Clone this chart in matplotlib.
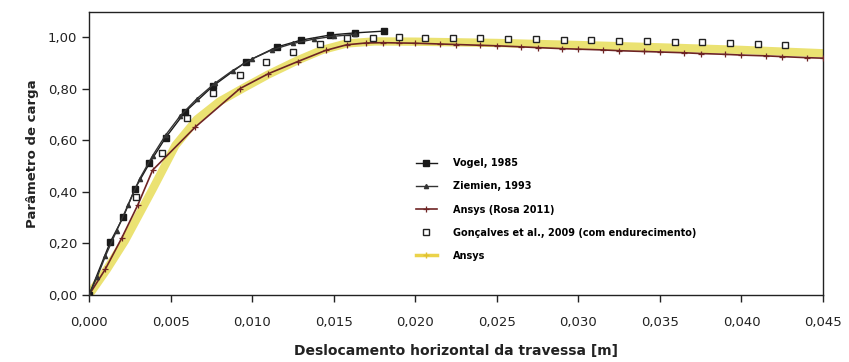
import matplotlib
matplotlib.use("Agg")
import matplotlib.pyplot as plt
from matplotlib.ticker import FuncFormatter
from matplotlib.lines import Line2D

# Vogel, 1985
vogel_x = [0.0, 0.0013, 0.0021, 0.0028, 0.0037, 0.0047, 0.0059, 0.0076, 0.0096, 0.0115, 0.0130, 0.0148, 0.0163, 0.0181]
vogel_y = [0.0, 0.205, 0.302, 0.410, 0.510, 0.610, 0.710, 0.810, 0.903, 0.961, 0.988, 1.008, 1.016, 1.023]

# Ziemien, 1993
ziem_x = [0.0, 0.0005, 0.0010, 0.0017, 0.0024, 0.0031, 0.0039, 0.0047, 0.0056, 0.0066, 0.0077, 0.0088, 0.0100, 0.0112, 0.0125, 0.0138, 0.0150, 0.0163]
ziem_y = [0.0, 0.07, 0.15, 0.25, 0.35, 0.45, 0.54, 0.62, 0.695, 0.76, 0.82, 0.87, 0.915, 0.950, 0.975, 0.992, 1.003, 1.010]

# Ansys (Rosa 2011)
rosa_x = [0.0, 0.0010, 0.0020, 0.0030, 0.0039, 0.0065, 0.00925, 0.0110, 0.0128, 0.0145, 0.0158, 0.0170, 0.0180, 0.0190, 0.0200,
          0.0215, 0.0225, 0.0240, 0.0250, 0.0265, 0.0275, 0.0290, 0.0300, 0.0315, 0.0325, 0.0340, 0.0350, 0.0365, 0.0375,
          0.0390, 0.0400, 0.0415, 0.0425, 0.0440, 0.0450]
rosa_y = [0.0, 0.10, 0.22, 0.35, 0.484, 0.65, 0.800, 0.858, 0.905, 0.948, 0.970, 0.977, 0.978, 0.977, 0.976,
          0.973, 0.971, 0.968, 0.966, 0.962, 0.959, 0.955, 0.953, 0.950, 0.947, 0.944, 0.942, 0.939, 0.936,
          0.933, 0.930, 0.927, 0.924, 0.920, 0.918]

# Goncalves et al., 2009 (com endurecimento)
gonc_x = [0.0029, 0.00447, 0.0060, 0.0076, 0.00925, 0.01085, 0.0125, 0.01415, 0.0158, 0.0174, 0.0190,
          0.0206, 0.0223, 0.0240, 0.0257, 0.0274, 0.0291, 0.0308, 0.0325, 0.0342, 0.0359, 0.0376, 0.0393, 0.0410, 0.0427]
gonc_y = [0.38, 0.55, 0.686, 0.783, 0.853, 0.903, 0.942, 0.973, 0.996, 0.998, 1.000,
          0.997, 0.996, 0.995, 0.994, 0.992, 0.990, 0.988, 0.986, 0.984, 0.982, 0.979, 0.976, 0.973, 0.969]

# Ansys
ansys_x = [0.0, 0.0011, 0.0022, 0.0039, 0.0053, 0.0066, 0.0080, 0.0094, 0.0110, 0.0128, 0.0143, 0.0158, 0.0175, 0.0200,
           0.0250, 0.0300, 0.0350, 0.0400, 0.0450]
ansys_y = [0.0, 0.10, 0.21, 0.41, 0.58, 0.68, 0.75, 0.80, 0.855, 0.91, 0.95, 0.975, 0.983, 0.982,
           0.977, 0.969, 0.960, 0.950, 0.937]

xticks = [0.000, 0.005, 0.010, 0.015, 0.020, 0.025, 0.030, 0.035, 0.040, 0.045]
yticks = [0.0, 0.2, 0.4, 0.6, 0.8, 1.0]

fig = plt.figure(figsize=(8.49, 3.62), dpi=100)
ax = fig.add_axes([89/849, 1-295/362, (823-89)/849, (295-12)/362])

ax.plot(ansys_x, ansys_y, color="#ebe272", lw=6, solid_capstyle="round", label="Ansys", zorder=2)
ax.plot(rosa_x, rosa_y, color="#6e2424", lw=1.2, marker="+", markersize=4.5, markeredgewidth=0.9,
        label="Ansys (Rosa 2011)", zorder=3)
ax.plot(gonc_x, gonc_y, linestyle="none", marker="s", markersize=4.5, markerfacecolor="white",
        markeredgecolor="#222222", markeredgewidth=1.0, label="Gonçalves et al., 2009 (com endurecimento)", zorder=4)
ax.plot(vogel_x, vogel_y, color="#1a1a1a", lw=1.0, marker="s", markersize=3.8, label="Vogel, 1985", zorder=5)
ax.plot(ziem_x, ziem_y, color="#333333", lw=1.0, marker="^", markersize=3, label="Ziemien, 1993", zorder=5)

ax.set_xlim(0, 0.045)
ax.set_ylim(0, 1.097)
ax.set_xticks(xticks)
ax.set_yticks(yticks)
ax.xaxis.set_major_formatter(FuncFormatter(lambda v, p: f"{v:.3f}".replace(".", ",")))
ax.yaxis.set_major_formatter(FuncFormatter(lambda v, p: f"{v:.2f}".replace(".", ",")))
ax.tick_params(axis="both", direction="out", length=5, width=1, labelsize=9.5, colors="#222222")
ax.tick_params(axis="x", pad=10)
for s in ax.spines.values():
    s.set_color("#222222")
    s.set_linewidth(1.0)

ax.set_xlabel("Deslocamento horizontal da travessa [m]", fontsize=10, fontweight="bold", color="#222222", labelpad=11)
ax.set_ylabel("Parâmetro de carga", fontsize=9.5, fontweight="bold", color="#222222", labelpad=6)

handles, labels = ax.get_legend_handles_labels()
order = ["Vogel, 1985", "Ziemien, 1993", "Ansys (Rosa 2011)", "Gonçalves et al., 2009 (com endurecimento)", "Ansys"]
hmap = dict(zip(labels, handles))
hmap["Ansys"] = Line2D([], [], color="#ebd34a", lw=2.5, marker="+", markersize=5, markeredgecolor="#e0c030")
leg = ax.legend([hmap[k] for k in order], order, loc="upper left", bbox_to_anchor=(0.445, 0.483),
                frameon=False, prop={"size": 7, "weight": "bold"}, labelspacing=1.35, handlelength=2.2,
                handletextpad=1.6, borderaxespad=0, borderpad=0)

fig.savefig("out.png", dpi=100)
